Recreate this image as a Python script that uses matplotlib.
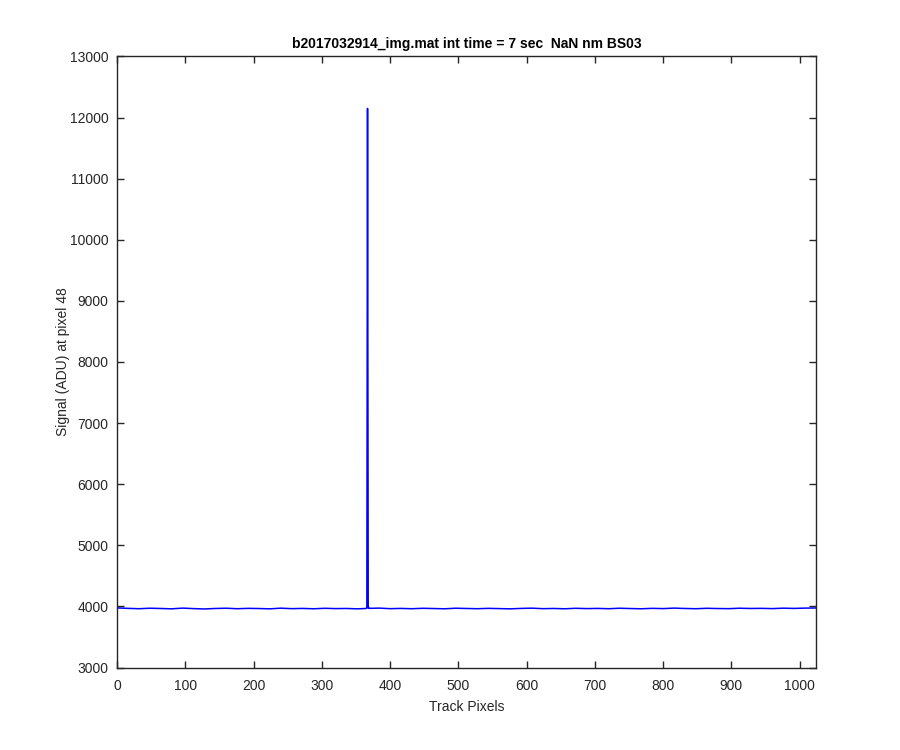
import numpy as np
import matplotlib
matplotlib.use("Agg")
import matplotlib.pyplot as plt

# baseline readings, one every 16 track pixels
base_x = list(range(0, 1024, 16)) + [1023]
base_y = [3975, 3968, 3962, 3970, 3966, 3960, 3972, 3964, 3958, 3966,
          3970, 3962, 3968, 3965, 3960, 3971, 3963, 3967, 3961, 3969,
          3964, 3966, 3960, 3968, 3972, 3963, 3967, 3962, 3969, 3965,
          3961, 3970, 3966, 3962, 3968, 3964, 3960, 3967, 3971, 3963,
          3966, 3961, 3969, 3964, 3967, 3962, 3970, 3965, 3961, 3968,
          3964, 3972, 3966, 3962, 3969, 3965, 3963, 3970, 3966, 3968,
          3964, 3971, 3967, 3972, 3974]
# the single spike near pixel 367
spike_x = [365, 366, 367, 368, 369]
spike_y = [3966, 3985, 12150, 4010, 3968]

x = np.array(base_x + spike_x)
y = np.array(base_y + spike_y)
order = np.argsort(x, kind="stable")
x, y = x[order], y[order]

plt.rcParams["font.family"] = ["Liberation Sans", "DejaVu Sans"]
plt.rcParams["font.size"] = 10

fig = plt.figure(figsize=(9, 7.5), dpi=100)
ax = fig.add_axes([0.13, 0.11, 0.7767, 0.8147])
ax.plot(x, y, color="#0000ff", linewidth=1.1)

ax.set_xlim(0, 1024)
ax.set_ylim(3000, 13000)
ax.set_xticks(np.arange(0, 1001, 100))
ax.set_yticks(np.arange(3000, 13001, 1000))

dark = "#262626"
for s in ax.spines.values():
    s.set_color(dark)
    s.set_linewidth(1.0)
ax.tick_params(direction="in", top=True, right=True, length=5,
               width=1.0, color=dark, labelcolor=dark, labelsize=10)
ax.tick_params(axis="x", pad=8)
ax.tick_params(axis="y", pad=6)

ax.set_xlabel("Track Pixels", color=dark, fontsize=10, labelpad=5)
ax.set_ylabel("Signal (ADU) at pixel 48", color=dark, fontsize=10, labelpad=0)
ax.set_title("b2017032914_img.mat int time = 7 sec  NaN nm BS03",
             fontsize=10, fontweight="bold", color="black")

fig.savefig("out.png", dpi=100)
